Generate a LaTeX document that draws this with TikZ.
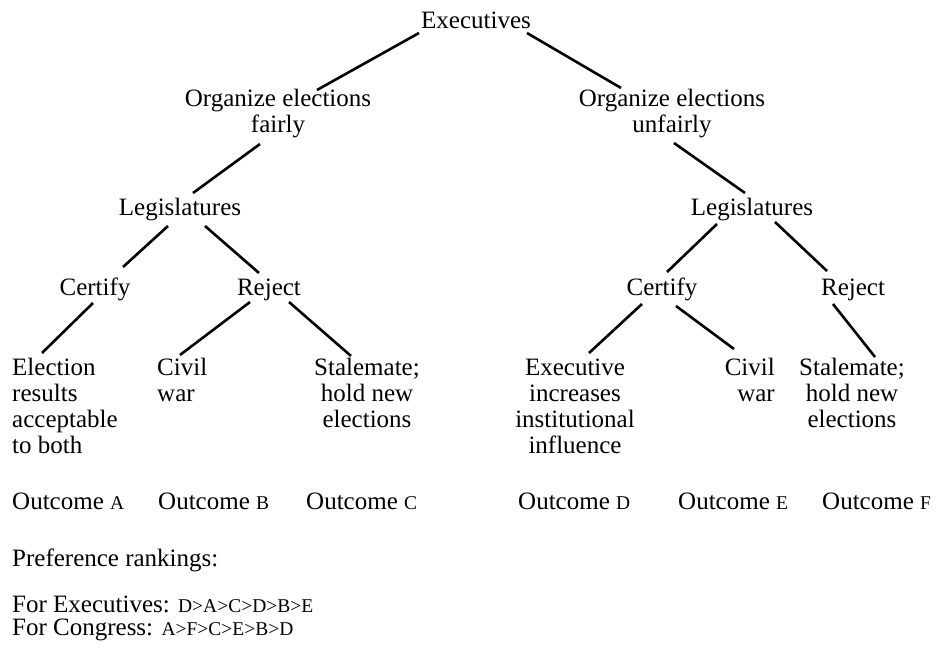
\documentclass[tikz,border=0pt]{standalone}
\usepackage{fontspec}
\setmainfont{Liberation Serif}
\usetikzlibrary{calc}
\newcommand\smcap[1]{{\fontsize{19.5}{20}\selectfont #1}}
\begin{document}
\begin{tikzpicture}[x=1pt,y=-1pt,
  lbl/.style={inner sep=0pt, font=\fontsize{25}{26}\selectfont},
  edge/.style={line width=2.6pt}]
\useasboundingbox (0,0) rectangle (938,648);
% decision nodes (base = baseline of last line)
\node[lbl,anchor=base] (exec) at (476,28) {Executives};
\node[lbl,anchor=base,align=center] (oef) at (278,132) {Organize elections\\fairly};
\node[lbl,anchor=base,align=center] (oeu) at (672,132) {Organize elections\\unfairly};
\node[lbl,anchor=base] (legL) at (180,215) {Legislatures};
\node[lbl,anchor=base] (legR) at (752,215) {Legislatures};
\node[lbl,anchor=base] (certL) at (95,295) {Certify};
\node[lbl,anchor=base] (rejL) at (269,295) {Reject};
\node[lbl,anchor=base] (certR) at (662,295) {Certify};
\node[lbl,anchor=base] (rejR) at (853,295) {Reject};
% leaves
\node[lbl,anchor=base west,align=left] (leafA) at (12,453) {Election\\results\\acceptable\\to both};
\node[lbl,anchor=base west,align=left] (leafB) at (157,401) {Civil\\war};
\node[lbl,anchor=base,align=center] (leafC) at (367,427) {Stalemate;\\hold new\\elections};
\node[lbl,anchor=base,align=center] (leafD) at (575,453) {Executive\\increases\\institutional\\influence};
\node[lbl,anchor=base east,align=right] (leafE) at (775,401) {Civil\\war};
\node[lbl,anchor=base,align=center] (leafF) at (852,427) {Stalemate;\\hold new\\elections};
% outcomes
\node[lbl,anchor=base west] (outA) at (12,509) {Outcome \smcap{A}};
\node[lbl,anchor=base west] (outB) at (158,509) {Outcome \smcap{B}};
\node[lbl,anchor=base west] (outC) at (306,509) {Outcome \smcap{C}};
\node[lbl,anchor=base west] (outD) at (518,509) {Outcome \smcap{D}};
\node[lbl,anchor=base west] (outE) at (678,509) {Outcome \smcap{E}};
\node[lbl,anchor=base west] (outF) at (822,509) {Outcome \smcap{F}};
% preferences
\node[lbl,anchor=base west] (pref) at (12,566) {Preference rankings:};
\node[lbl,anchor=base west] (prefE) at (12,612) {For Executives: \smcap{D>A>C>D>B>E}};
\node[lbl,anchor=base west] (prefC) at (12,635) {For Congress: \smcap{A>F>C>E>B>D}};
% connectors
\draw[edge] ($(exec.base)+(-57,5)$) -- ($(oef.base)+(39,-42)$);
\draw[edge] ($(exec.base)+(51,5)$) -- ($(oeu.base)+(-51,-44)$);
\draw[edge] ($(oef.base)+(-18,12)$) -- ($(legL.base)+(13,-22)$);
\draw[edge] ($(oeu.base)+(2,11)$) -- ($(legR.base)+(-7,-22)$);
\draw[edge] ($(legL.base)+(-12,11)$) -- ($(certL.base)+(28,-28)$);
\draw[edge] ($(legL.base)+(25,11)$) -- ($(rejL.base)+(-10,-22)$);
\draw[edge] ($(legR.base)+(-35,9)$) -- ($(certR.base)+(5,-23)$);
\draw[edge] ($(legR.base)+(23,7)$) -- ($(rejR.base)+(-26,-24)$);
\draw[edge] ($(certL.base)+(-2,8)$) -- ($(leafA.base west)+(30,-100)$);
\draw[edge] ($(rejL.base)+(-19,7)$) -- ($(leafB.base west)+(23,-46)$);
\draw[edge] ($(rejL.base)+(20,7)$) -- ($(leafC.base)+(-16,-71)$);
\draw[edge] ($(certR.base)+(-20,9)$) -- ($(leafD.base)+(14,-100)$);
\draw[edge] ($(certR.base)+(14,11)$) -- ($(leafE.base east)+(-41,-52)$);
\draw[edge] ($(rejR.base)+(-20,9)$) -- ($(leafF.base)+(23,-70)$);
\end{tikzpicture}
\end{document}
